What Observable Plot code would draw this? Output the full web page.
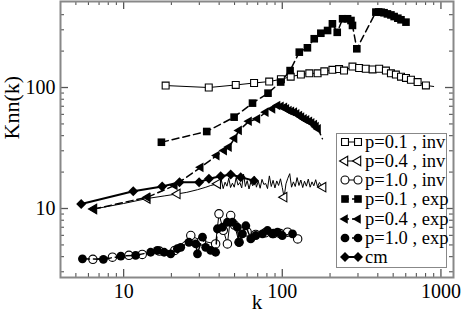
<!DOCTYPE html>
<html><head><meta charset="utf-8">
<script src="https://cdn.jsdelivr.net/npm/d3@7"></script>
<script src="https://cdn.jsdelivr.net/npm/@observablehq/plot@0.6"></script>
<style>
body{margin:0;background:#fff;}
#wrap{position:relative;width:463px;height:317px;}
#legend{position:absolute;left:336px;top:133px;width:111px;height:135px;border:1.5px solid #888;box-sizing:border-box;background:#fff;font-family:"Liberation Serif",serif;font-size:18.5px;color:#000;}
.row{position:absolute;left:0;height:18px;line-height:18px;white-space:nowrap;}
.row svg{position:absolute;left:0;top:0;}
.row span{position:absolute;left:28px;top:0;}
</style></head><body><div id="wrap"></div>
<script>
// ---- tick values ----
const ticksMajorX = [10, 100, 1000];
const ticksMinorX = [5, 6, 7, 8, 9, 20, 30, 40, 50, 60, 70, 80, 90, 200, 300, 400, 500, 600, 700, 800, 900];
const ticksMajorY = [10, 100];
const ticksMinorY = [3, 4, 5, 6, 7, 8, 9, 20, 30, 40, 50, 60, 70, 80, 90, 200, 300, 400];

// ---- series: [k, Knn(k)] ----
const p01inv = [[18.4,103.8],[34.4,100],[50.9,105],[66.4,109],[82.7,112],[98,117],[113,123],[131,128],[148,131],[167,131],[184,136],[207,140],[228,142],[245,138],[277,149],[305,145],[336,143],[371,141],[408,143],[450,138],[484,131],[520,128],[560,123],[602,120],[647,116],[713,111],[804,104]];
const p01invTail = [[900,102]];

const p04invStart = [[6.5,9.9],[10,11.0],[14.1,12.1],[18,12.7],[21.8,13.2],[25,13.6],[29.2,14.3],[33,15.0],[35.4,15.5]];
const p04invNoiseK = [39.2,40.2,41.3,42.4,43.6,44.8,46,47.2,48.5,49.8,51.2,52.6,54,55.5,57,58.5,60.1,61.7,63.4,65.1,66.9,68.7,70.6,72.5,74.5,76.5,78.6,80.7,82.9,85.2,87.5,89.9,92.3,94.8,97.4,100,102.7,105.5,108.4,111.4,114.4,117.5,120.7,124,127.4,130.9,134.5,138.1,141.9,145.8,149.8,153.9,158.1,162.4,166.8,171.4,176,180.8];
const p04invNoiseKnn = [16.0,15.1,17.2,14.6,16.5,15.3,17.8,14.9,16.2,15.0,18.0,15.6,16.4,14.8,19.2,15.2,17.0,14.5,16.6,15.4,18.4,15.0,16.8,14.7,17.4,15.8,16.1,14.6,18.6,15.2,17.1,14.8,16.9,15.5,17.6,14.9,12.4,16.0,17.8,19.4,15.0,16.6,15.2,18.0,15.5,17.2,14.9,16.8,15.3,17.5,15.0,16.6,15.4,17.3,15.1,16.4,15.6,15.0];
const p04invMarkers = [[6.5,9.9],[14.1,12.1],[21.8,13.2],[39.2,16.0],[102.7,12.4],[180.8,15.0]];

const p10inv = [[6.4,3.8],[8.5,3.96],[10.8,4.1],[13.1,4.17],[16.8,4.45],[21,4.5],[26.5,5.98],[31,5.4],[38,5.1],[39.9,9.03],[42.5,6.6],[45.1,5.1],[47.3,8.75],[50,7.3],[53.4,5.26],[60,6.4],[68,6.1],[78,6.3],[88,6.2],[97,6.2],[108,6.37],[125,5.6]];

const p01exp = [[17.3,35.3],[33.4,43.3],[49.7,56.9],[64.9,74.3],[81.3,89.8],[97.7,111],[112,138],[128,196],[144,213],[159,253],[175,281],[193,296],[207,336],[222,286],[240,370],[258,370],[271,358],[277,326],[295,209],[389,420],[405,421],[420,419],[438,415],[460,406],[484,398],[507,386],[535,374],[560,363],[602,347]];

const p04exp = [[6.5,9.9],[14.1,12.4],[21,15.5],[30.6,21.9],[38.6,27.4],[43,30.1],[46.1,32.2],[50,38],[53.4,44.2],[61.7,52.6],[69.7,55.1],[78.7,62.5],[86.7,66.7],[93.3,71],[98,70],[103,68.7],[106,66.5],[110,64.6],[114,63.5],[119,62.5],[123,60.5],[128,58.7],[132,57],[137,55.1],[142,54],[148,52.6],[153,51],[159,49.4],[163,47.5],[168,45.6]];
const p04expTail = [[179,37.7]];

const p10exp = [[5.5,3.84],[7.45,3.8],[9.6,4.04],[11.9,4.1],[14.8,4.35],[16.3,4.5],[18,4.35],[19.8,4.22],[21.8,4.65],[22.9,4.78],[25.8,5.26],[28.5,5.1],[29.2,4.22],[31.4,5.8],[32.9,4.78],[35.4,4.5],[38,4.35],[39,6.8],[42,7.0],[45.1,7.7],[48.5,7.7],[52.1,7.0],[53.4,5.26],[56.1,6.18],[58.9,7.2],[63.3,5.6],[68.1,5.98],[75,6.18],[80.7,6.58],[86.7,6.18],[93.3,6.37],[100,5.98],[116,6.18]];

const cm = [[5.4,10.9],[11.5,13.9],[17.5,15.2],[22.5,16.5],[29.9,16.5],[34.5,17.6],[40.9,18.5],[47.3,19.1],[54.7,18.1],[66.4,17.0]];

const legendLabels = ["p=0.1 , inv","p=0.4 , inv","p=1.0 , inv","p=0.1 , exp","p=0.4 , exp","p=1.0 , exp","cm"];

// ---- chart ----
const p04invLine = p04invStart.concat(d3.zip(p04invNoiseK, p04invNoiseKnn));
const X = d => d[0], Y = d => d[1];
const dash = "7,4";
const tickColor = "#555";
const FONT = "'Liberation Serif', 'Times New Roman', serif";

const chart = Plot.plot({
  width: 463, height: 317,
  marginLeft: 60, marginRight: 10, marginTop: 1, marginBottom: 40,
  style: {fontFamily: FONT, background: "#fff", color: "#000"},
  x: {type: "log", domain: [4, 1200]},
  y: {type: "log", domain: [2.69, 514]},
  marks: [
    // inward ticks on all four sides
    Plot.tickX(ticksMajorX, {x: d => d, stroke: tickColor, strokeWidth: 1.3, insetTop: 268}),
    Plot.tickX(ticksMajorX, {x: d => d, stroke: tickColor, strokeWidth: 1.3, insetBottom: 268}),
    Plot.tickX(ticksMinorX, {x: d => d, stroke: tickColor, strokeWidth: 1.1, insetTop: 272}),
    Plot.tickX(ticksMinorX, {x: d => d, stroke: tickColor, strokeWidth: 1.1, insetBottom: 272}),
    Plot.tickY(ticksMajorY, {y: d => d, stroke: tickColor, strokeWidth: 1.3, insetRight: 385}),
    Plot.tickY(ticksMajorY, {y: d => d, stroke: tickColor, strokeWidth: 1.3, insetLeft: 385}),
    Plot.tickY(ticksMinorY, {y: d => d, stroke: tickColor, strokeWidth: 1.1, insetRight: 389}),
    Plot.tickY(ticksMinorY, {y: d => d, stroke: tickColor, strokeWidth: 1.1, insetLeft: 389}),
    Plot.axisX({ticks: ticksMajorX, tickSize: 0, tickPadding: 6, tickFormat: d => String(d), label: null, fontSize: 20, fill: "#000"}),
    Plot.axisY({ticks: ticksMajorY, tickSize: 0, tickPadding: 5, tickFormat: d => String(d), label: null, fontSize: 20, fill: "#000"}),
    Plot.text(["k"], {text: d => d, frameAnchor: "bottom", dy: 31.6, fontSize: 21, fill: "#000"}),
    Plot.text(["Knn(k)"], {text: d => d, frameAnchor: "left", dx: -49, rotate: -90, fontSize: 22, fill: "#000"}),

    // p=0.1 inv
    Plot.line(p01inv.concat(p01invTail), {x: X, y: Y, stroke: "#000", strokeWidth: 1}),
    Plot.dot(p01inv, {x: X, y: Y, symbol: "square", r: 3.9, fill: "#fff", stroke: "#000", strokeWidth: 1.1}),
    // p=0.4 inv
    Plot.line(p04invLine, {x: X, y: Y, stroke: "#000", strokeWidth: 1}),
    Plot.dot(p04invMarkers, {x: X, y: Y, symbol: "triangle", rotate: -90, r: 3.5, fill: "#fff", stroke: "#000", strokeWidth: 1.1}),
    // p=1.0 inv
    Plot.line(p10inv, {x: X, y: Y, stroke: "#000", strokeWidth: 1}),
    Plot.dot(p10inv, {x: X, y: Y, symbol: "circle", r: 4.2, fill: "#fff", stroke: "#000", strokeWidth: 1.1}),
    // p=0.1 exp
    Plot.line(p01exp, {x: X, y: Y, stroke: "#000", strokeWidth: 1.5, strokeDasharray: dash}),
    Plot.dot(p01exp, {x: X, y: Y, symbol: "square", r: 4.3, fill: "#000", stroke: "none"}),
    // p=0.4 exp
    Plot.line(p04exp.concat(p04expTail), {x: X, y: Y, stroke: "#000", strokeWidth: 1.5, strokeDasharray: dash}),
    Plot.dot(p04exp, {x: X, y: Y, symbol: "triangle", rotate: -90, r: 3.6, fill: "#000", stroke: "none"}),
    // p=1.0 exp
    Plot.line(p10exp, {x: X, y: Y, stroke: "#000", strokeWidth: 1.5, strokeDasharray: dash}),
    Plot.dot(p10exp, {x: X, y: Y, symbol: "circle", r: 4.4, fill: "#000", stroke: "none"}),
    // cm
    Plot.line(cm, {x: X, y: Y, stroke: "#000", strokeWidth: 2}),
    Plot.dot(cm, {x: X, y: Y, symbol: "diamond2", r: 4.5, fill: "#000", stroke: "none"}),

    Plot.frame({stroke: "#888", strokeWidth: 2})
  ]
});
const wrap = document.getElementById("wrap");
wrap.appendChild(chart);

// ---- legend ----
const legendSymbols = [
  {type: d3.symbolSquare, size: 48, fill: "#fff", rot: 0, dash: null, lw: 1},
  {type: d3.symbolTriangle, size: 38, fill: "#fff", rot: -90, dash: null, lw: 1},
  {type: d3.symbolCircle, size: 50, fill: "#fff", rot: 0, dash: null, lw: 1},
  {type: d3.symbolSquare, size: 58, fill: "#000", rot: 0, dash: "4,3", lw: 1.5},
  {type: d3.symbolTriangle, size: 40, fill: "#000", rot: -90, dash: "4,3", lw: 1.5},
  {type: d3.symbolCircle, size: 60, fill: "#000", rot: 0, dash: "4,3", lw: 1.5},
  {type: d3.symbolDiamond2, size: 64, fill: "#000", rot: 0, dash: null, lw: 2}
];
const legend = document.createElement("div");
legend.id = "legend";
wrap.appendChild(legend);
legendLabels.forEach((lab, i) => {
  const s = legendSymbols[i];
  const row = document.createElement("div");
  row.className = "row";
  row.style.top = (142 - 134.5 - 9 + i * 19.3) + "px";
  const path = d3.symbol(s.type, s.size)();
  const stroke = s.fill === "#fff" ? "#000" : "none";
  row.innerHTML =
    `<svg width="28" height="18"><line x1="8" x2="21" y1="9" y2="9" stroke="#000" stroke-width="${s.lw}" ${s.dash ? `stroke-dasharray="${s.dash}"` : ""}/>` +
    `<path d="${path}" transform="translate(8,9) rotate(${s.rot})" fill="${s.fill}" stroke="${stroke}" stroke-width="1.1"/>` +
    `<path d="${path}" transform="translate(21,9) rotate(${s.rot})" fill="${s.fill}" stroke="${stroke}" stroke-width="1.1"/></svg>` +
    `<span></span>`;
  row.querySelector("span").textContent = lab;
  legend.appendChild(row);
});
</script>
</body></html>
